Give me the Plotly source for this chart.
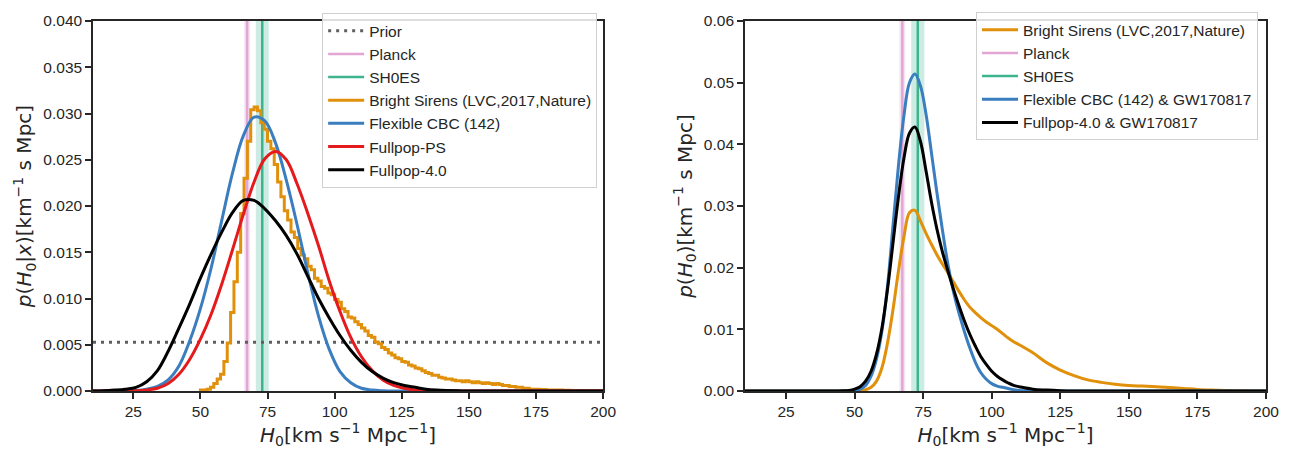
import numpy as np
import plotly.graph_objects as go

# ---------------- data ----------------
prior_x = [10, 200]
prior_y = [0.00526, 0.00526]

planck_h0 = 67.4
planck_band = 1.1
shoes_h0 = 73.04
shoes_band = 2.4

# Bright sirens (GW170817) histogram, left panel
hist_start = 50.0
hist_width = 1.25
hist_vals = [
    0.0001, 0.0001, 0.0002, 0.0004, 0.0008, 0.0013, 0.0018, 0.0032, 0.0052, 0.0085,
    0.0118, 0.0150, 0.0192, 0.0230, 0.0270, 0.0304, 0.0307, 0.0303, 0.0290, 0.0283,
    0.0270, 0.0262, 0.0245, 0.0226, 0.0210, 0.0195, 0.0185, 0.0172, 0.0166, 0.0154,
    0.0147, 0.0143, 0.0135, 0.0131, 0.0122, 0.0119, 0.0113, 0.0111, 0.0106, 0.0104,
    0.0099, 0.0096, 0.0089, 0.0086, 0.0080, 0.0079, 0.0075, 0.0072, 0.0068, 0.0065,
    0.0060, 0.0058, 0.0053, 0.0051, 0.0047, 0.0045, 0.0041, 0.0039, 0.0036, 0.0035,
    0.0032, 0.0031, 0.0028, 0.0027, 0.0025, 0.0024, 0.0022, 0.0020, 0.0019, 0.0017,
    0.0017, 0.0015, 0.0014, 0.0013, 0.0013, 0.0012, 0.0011, 0.0011, 0.0010, 0.0011,
    0.0010, 0.0009, 0.0010, 0.0009, 0.0008, 0.0009, 0.0008, 0.0007, 0.0008, 0.0007,
    0.0006, 0.0006, 0.0005, 0.0005, 0.0004, 0.0004, 0.0003, 0.0003, 0.0002, 0.0002,
    0.0002, 0.00015, 0.00015, 0.0001, 0.0001, 0.0001, 0.0001, 0.0001, 0.00008, 0.00008,
    0.00006, 0.00006, 0.00005, 0.00005, 0.00004, 0.00004, 0.00003, 0.00003, 0.00003, 0.00002,
]

# Left panel curves (H0 grid in km/s/Mpc, density values)
left_h0 = [10, 14, 18, 22, 26, 30, 34, 38, 42, 46, 50, 54, 58, 62, 66, 70, 74, 78, 82,
           86, 90, 94, 98, 102, 106, 110, 114, 118, 122, 126, 130, 134, 138, 142, 146,
           150, 160, 170, 180, 190, 200]
flex_p = [0, 0, 0, 0.00002, 0.00006, 0.0002, 0.0005, 0.0012, 0.0027, 0.0054, 0.0089,
          0.0133, 0.0185, 0.0236, 0.0276, 0.0296, 0.0292, 0.0268, 0.0228, 0.0180, 0.0128,
          0.0081, 0.0045, 0.0021, 0.0009, 0.0003, 0.0001, 0.00003, 0, 0, 0, 0, 0, 0, 0,
          0, 0, 0, 0, 0, 0]
ps_p = [0, 0, 0, 0.00001, 0.00004, 0.00012, 0.0003, 0.0008, 0.0018, 0.0034, 0.0056,
        0.0083, 0.0116, 0.0153, 0.0191, 0.0226, 0.0251, 0.0259, 0.0250, 0.0224, 0.0192,
        0.0157, 0.0119, 0.0086, 0.0058, 0.0037, 0.0022, 0.0012, 0.0006, 0.0003, 0.0001,
        0.00003, 0, 0, 0, 0, 0, 0, 0, 0, 0]
fp4_p = [0, 0.00003, 0.0001, 0.0002, 0.0004, 0.0010, 0.0022, 0.0043, 0.0068, 0.0094,
         0.0122, 0.0148, 0.0172, 0.0193, 0.0206, 0.0206, 0.0197, 0.0184, 0.0168, 0.0148,
         0.0124, 0.0100, 0.0079, 0.0060, 0.0044, 0.0031, 0.0021, 0.0014, 0.0009, 0.0006,
         0.0004, 0.0002, 0.0001, 0.00005, 0.00002, 0, 0, 0, 0, 0, 0]

# Right panel curves
right_h0 = [10, 30, 44, 46, 48, 50, 52, 54, 56, 58, 60, 62, 64, 66, 68, 70, 72, 74, 76,
            78, 80, 82, 84, 86, 88, 90, 92, 94, 96, 98, 100, 102, 104, 106, 108, 110,
            115, 120, 125, 130, 135, 140, 145, 150, 155, 160, 165, 170, 175, 180, 185,
            190, 195, 200]
bs_p = [0, 0, 0, 0, 0, 0, 0.00005, 0.0002, 0.0006, 0.0016, 0.0038, 0.0078, 0.0132,
        0.0195, 0.0250, 0.0289, 0.0293, 0.0276, 0.0256, 0.0238, 0.0221, 0.0206, 0.0192,
        0.0177, 0.0162, 0.0148, 0.0136, 0.0127, 0.0119, 0.0112, 0.0106, 0.0100, 0.0093,
        0.0086, 0.0080, 0.0075, 0.0062, 0.0046, 0.0034, 0.0025, 0.0018, 0.0014, 0.0011,
        0.0009, 0.0008, 0.0007, 0.00055, 0.0004, 0.00025, 0.00015, 0.00008, 0.00004,
        0.00002, 0.00001]
flexgw_p = [0, 0, 0, 0, 0.00003, 0.0001, 0.0003, 0.0009, 0.0024, 0.0052, 0.0098, 0.0170,
            0.0268, 0.0366, 0.0447, 0.0500, 0.0514, 0.0495, 0.0450, 0.0387, 0.0322, 0.0262,
            0.0206, 0.0162, 0.0127, 0.0097, 0.0070, 0.0047, 0.0030, 0.0019, 0.0012, 0.0008,
            0.0006, 0.0004, 0.0002, 0.0001, 0.00003, 0, 0, 0, 0, 0, 0, 0, 0, 0, 0, 0, 0,
            0, 0, 0, 0, 0]
fp4gw_p = [0, 0, 0, 0.00003, 0.0001, 0.0003, 0.0007, 0.0016, 0.0032, 0.0060, 0.0103,
           0.0165, 0.0240, 0.0315, 0.0378, 0.0418, 0.0428, 0.0405, 0.0358, 0.0307, 0.0263,
           0.0226, 0.0195, 0.0166, 0.0139, 0.0114, 0.0092, 0.0073, 0.0056, 0.0043, 0.0032,
           0.0024, 0.0018, 0.0013, 0.0009, 0.0007, 0.0003, 0.00015, 0.00005, 0, 0, 0, 0,
           0, 0, 0, 0, 0, 0, 0, 0, 0, 0, 0]

x_ticks = [25, 50, 75, 100, 125, 150, 175, 200]

# ---------------- styles ----------------
C_ORANGE = "#e0900a"
C_BLUE = "#3a7ebf"
C_RED = "#e41a1c"
C_BLACK = "#000000"
C_PLANCK = "#e2a5d4"
C_PLANCK_BAND = "rgba(204,120,188,0.2)"
C_SHOES = "#3db48e"
C_SHOES_BAND = "rgba(2,158,115,0.2)"
C_AXIS = "#262626"
SANS = "Liberation Sans, Arial, sans-serif"
TICK_FONT = dict(family=SANS, size=15.5, color=C_AXIS)
TITLE_FONT = dict(family="DejaVu Sans, sans-serif", size=20, color=C_AXIS)
LW = 3

fig = go.Figure()

# ---------------- left panel ----------------
fig.add_trace(go.Scatter(x=prior_x, y=prior_y, mode="lines", name="Prior",
                         line=dict(color="#5f5f5f", width=3, dash="3px,5px"),
                         xaxis="x", yaxis="y", legend="legend", legendrank=1))

edges = hist_start + hist_width * np.arange(len(hist_vals) + 1)
hx = [edges[0]] + list(edges)
hy = [0] + list(hist_vals) + [0]
fig.add_trace(go.Scatter(x=hx, y=hy, mode="lines", line_shape="hv",
                         name="Bright Sirens (LVC,2017,Nature)",
                         line=dict(color=C_ORANGE, width=LW),
                         xaxis="x", yaxis="y", legend="legend", legendrank=4))
for yv, nm, col, rk in [(flex_p, "Flexible CBC (142)", C_BLUE, 5),
                        (ps_p, "Fullpop-PS", C_RED, 6),
                        (fp4_p, "Fullpop-4.0", C_BLACK, 7)]:
    fig.add_trace(go.Scatter(x=left_h0, y=yv, mode="lines", line_shape="spline",
                             name=nm, line=dict(color=col, width=LW),
                             xaxis="x", yaxis="y", legend="legend", legendrank=rk))

# ---------------- right panel ----------------
for yv, nm, col, rk in [(bs_p, "Bright Sirens (LVC,2017,Nature)", C_ORANGE, 1),
                        (flexgw_p, "Flexible CBC (142) & GW170817", C_BLUE, 4),
                        (fp4gw_p, "Fullpop-4.0 & GW170817", C_BLACK, 5)]:
    fig.add_trace(go.Scatter(x=right_h0, y=yv, mode="lines", line_shape="spline",
                             name=nm, line=dict(color=col, width=LW),
                             xaxis="x2", yaxis="y2", legend="legend2", legendrank=rk))

# bands and reference lines as shapes
shapes = []
for xr, yr, leg in [("x", "y domain", "legend"), ("x2", "y2 domain", "legend2")]:
    shapes.append(dict(type="rect", xref=xr, yref=yr, x0=planck_h0 - planck_band,
                       x1=planck_h0 + planck_band, y0=0, y1=1, fillcolor=C_PLANCK_BAND,
                       line=dict(width=0), layer="below"))
    shapes.append(dict(type="rect", xref=xr, yref=yr, x0=shoes_h0 - shoes_band,
                       x1=shoes_h0 + shoes_band, y0=0, y1=1, fillcolor=C_SHOES_BAND,
                       line=dict(width=0), layer="below"))
    shapes.append(dict(type="line", xref=xr, yref=yr, x0=planck_h0, x1=planck_h0, y0=0, y1=1,
                       line=dict(color=C_PLANCK, width=2.5), layer="below",
                       showlegend=True, name="Planck", legend=leg, legendrank=2))
    shapes.append(dict(type="line", xref=xr, yref=yr, x0=shoes_h0, x1=shoes_h0, y0=0, y1=1,
                       line=dict(color=C_SHOES, width=2.5), layer="below",
                       showlegend=True, name="SH0ES", legend=leg, legendrank=3))

W, H = 1291, 451
ML, MR, MT, MB = 93, 23, 12, 60
PW = W - ML - MR
PH = H - MT - MB


def px_x(p):
    return (p - ML) / PW


def px_y(p):
    return (H - MB - p) / PH


axis_common = dict(showline=True, mirror=True, linecolor=C_AXIS, linewidth=1.5,
                   ticks="outside", ticklen=6, tickwidth=1.5, tickcolor=C_AXIS,
                   showgrid=False, zeroline=False, tickfont=TICK_FONT)

xtitle = "<i>H</i><sub>0</sub>[km s<sup>−1</sup> Mpc<sup>−1</sup>]"

legend_common = dict(bgcolor="rgba(255,255,255,0.85)", bordercolor="#d0d0d0", borderwidth=1,
                     font=dict(family=SANS, size=15.5, color=C_AXIS),
                     xanchor="right", yanchor="top", traceorder="normal",
                     itemwidth=36)

fig.update_layout(
    width=W, height=H,
    margin=dict(l=ML, r=MR, t=MT, b=MB),
    plot_bgcolor="white", paper_bgcolor="white",
    showlegend=True,
    shapes=shapes,
    xaxis=dict(domain=[0, px_x(604)], range=[10, 200], tickvals=x_ticks,
               title=dict(text=xtitle, font=TITLE_FONT, standoff=4), anchor="y", **axis_common),
    yaxis=dict(domain=[0, 1], range=[0, 0.04], dtick=0.005, tickformat=".3f",
               title=dict(text="<i>p</i>(<i>H</i><sub>0</sub>|<i>x</i>)[km<sup>−1</sup> s Mpc]",
                          font=TITLE_FONT, standoff=6), anchor="x", **axis_common),
    xaxis2=dict(domain=[px_x(746), 1], range=[10, 200], tickvals=x_ticks,
                title=dict(text=xtitle, font=TITLE_FONT, standoff=4), anchor="y2", **axis_common),
    yaxis2=dict(domain=[0, 1], range=[0, 0.06], dtick=0.01, tickformat=".2f",
                title=dict(text="<i>p</i>(<i>H</i><sub>0</sub>)[km<sup>−1</sup> s Mpc]",
                           font=TITLE_FONT, standoff=6), anchor="x2", **axis_common),
    legend=dict(x=px_x(598), y=px_y(4), **legend_common),
    legend2=dict(x=px_x(1260), y=px_y(3), **legend_common),
)

fig.write_html("out.html")
